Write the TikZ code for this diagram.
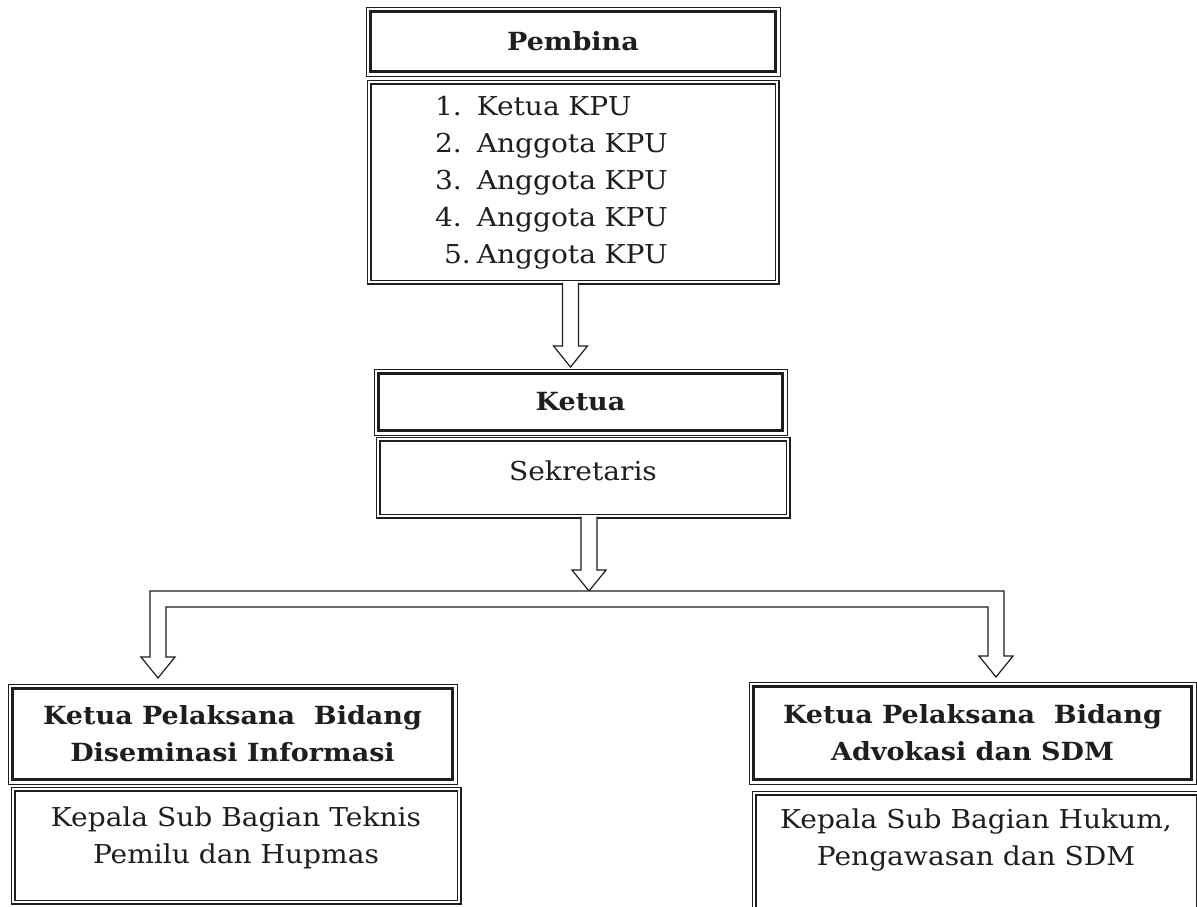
\documentclass[tikz,border=0pt]{standalone}
\usepackage{fontspec}
\setmainfont{DejaVu Serif}[FakeStretch=1.08]
\usepackage{tikz}
\usetikzlibrary{calc}
\definecolor{inkc}{HTML}{1E1E1E}
\tikzset{
  headbox/.style={draw=inkc, line width=1.5pt, inner sep=0pt, align=center,
    text=inkc, font=\fontsize{12.5}{18.5}\selectfont\bfseries},
  subbox/.style={draw=inkc, double=white, line width=0.6pt, double distance=1.3pt,
    inner sep=0pt, align=center, text=inkc, font=\fontsize{13}{18.5}\selectfont},
  frameline/.style={draw=inkc, line width=0.5pt},
  arrowline/.style={draw=inkc, line width=0.6pt, line join=miter, fill=white},
}
\newcommand{\arrshaft}{4pt}
\newcommand{\arrhead}{8.5pt}
\newcommand{\arrlen}{10.5pt}
\newcommand{\barw}{8pt}
% hollow arrow: shaft from #1 down to the tip #2
\newcommand{\hollowarrow}[2]{\draw[arrowline] let \p1=(#1), \p2=(#2) in
  (\x2-\arrshaft,\y1) -- (\x2-\arrshaft,\y2+\arrlen) -- (\x2-\arrhead,\y2+\arrlen) -- (\x2,\y2)
  -- (\x2+\arrhead,\y2+\arrlen) -- (\x2+\arrshaft,\y2+\arrlen) -- (\x2+\arrshaft,\y1);}

\begin{document}
\begin{tikzpicture}[x=0.5pt, y=-0.5pt]
    \useasboundingbox (0,0) rectangle (1197,906);
    % pembina
    \node[headbox, minimum width=202.5pt, minimum height=30pt] (pembinaHead) at (573,41.5) {Pembina};
    \node[subbox, minimum width=204pt, minimum height=100pt, text width=204pt, align=left] (pembinaList) at (573,182)
      {\hspace*{33pt}\begin{tabular}{@{}l@{\hspace{3pt}}l@{}}
        1.&Ketua KPU\\
        2.&Anggota KPU\\
        3.&Anggota KPU\\
        4.&Anggota KPU\\
        \hspace*{4.5pt}5.&Anggota KPU
      \end{tabular}};
    % ketua
    \node[headbox, minimum width=202pt, minimum height=28.5pt] (ketuaHead) at (580.5,402) {Ketua};
    \node[subbox, minimum width=205pt, minimum height=38.5pt, text depth=6.5pt] (sekretaris) at (583,477.5) {Sekretaris};
    % bidang left
    \node[headbox, minimum width=220pt, minimum height=45.5pt] (infoHead) at (232.5,734)
      {Ketua Pelaksana\ \ Bidang\\Diseminasi Informasi};
    \node[subbox, minimum width=223pt, minimum height=56.5pt, text depth=10pt] (infoSub) at (236,845.5)
      {Kepala Sub Bagian Teknis\\Pemilu dan Hupmas};
    % bidang right
    \node[headbox, minimum width=219pt, minimum height=46.5pt] (advHead) at (972.5,733)
      {Ketua Pelaksana\ \ Bidang\\Advokasi dan SDM};
    \node[subbox, minimum width=222pt, minimum height=58.5pt, text depth=14pt] (advSub) at (976,851.5)
      {Kepala Sub Bagian Hukum,\\Pengawasan dan SDM};
    % thin outer frames of the head boxes
    \foreach \n in {pembinaHead,ketuaHead,infoHead,advHead}
      \draw[frameline] ([shift={(-1.5pt,1.5pt)}]\n.north west) rectangle ([shift={(1.5pt,-1.5pt)}]\n.south east);

    % arrows
    \coordinate (split) at (589,591);
    \hollowarrow{pembinaList.south}{[xshift=-5pt,yshift=2.5pt]ketuaHead.north}
    \hollowarrow{sekretaris.south}{split}
    % bar with the two arrows down
    \draw[arrowline] let \p1=([xshift=-37.25pt,yshift=4.5pt]infoHead.north),
        \p2=([xshift=11.75pt,yshift=4pt]advHead.north), \p3=(split) in
      (\x1-\arrshaft,\y3) -- (\x1-\arrshaft,\y1+\arrlen) -- (\x1-\arrhead,\y1+\arrlen) -- (\x1,\y1)
      -- (\x1+\arrhead,\y1+\arrlen) -- (\x1+\arrshaft,\y1+\arrlen) -- (\x1+\arrshaft,\y3-\barw)
      -- (\x2-\arrshaft,\y3-\barw) -- (\x2-\arrshaft,\y2+\arrlen) -- (\x2-\arrhead,\y2+\arrlen) -- (\x2,\y2)
      -- (\x2+\arrhead,\y2+\arrlen) -- (\x2+\arrshaft,\y2+\arrlen) -- (\x2+\arrshaft,\y3) -- cycle;
\end{tikzpicture}
\end{document}
